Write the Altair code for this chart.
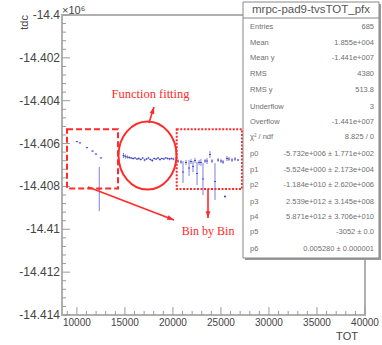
import altair as alt
import pandas as pd

# ---------------- data (TOT bin centre, mean tdc in units of 1e6, error) -------------
left_x = [10010, 10320, 11050, 11630, 11990, 12330, 12510]
left_y = [-14.40591, -14.40597, -14.40619, -14.40635, -14.40649, -14.40812, -14.40667]
left_e = [0.00002, 0.00002, 0.00002, 0.00002, 0.00002, 0.00103, 0.00002]

circ_x = [14850, 15050, 15250, 15450, 15650, 15850, 16050, 16250, 16450, 16650,
          16850, 17050, 17250, 17450, 17650, 17850, 18050, 18250, 18450, 18650,
          18850, 19050, 19250, 19450, 19650, 19850, 20050]
circ_y = [-14.406557, -14.406603, -14.406627, -14.40665, -14.406673, -14.406697,
          -14.406673, -14.40672, -14.406697, -14.406743, -14.406673, -14.406767,
          -14.40672, -14.406673, -14.406743, -14.40679, -14.406697, -14.40672,
          -14.406673, -14.406743, -14.406697, -14.40672, -14.406673, -14.406697,
          -14.40672, -14.406697, -14.40672]
circ_e = [0.00012, 0.0001, 0.00008, 0.00006, 0.00005, 0.00005, 0.00004, 0.00005,
          0.00006, 0.00005, 0.00004, 0.00006, 0.00005, 0.00004, 0.00005, 0.00007,
          0.00005, 0.00004, 0.00005, 0.00006, 0.00004, 0.00005, 0.00004, 0.00005,
          0.00006, 0.00005, 0.00006]

right_x = [20530, 20840, 21050, 21360, 21680, 21880, 22090, 22300, 22510, 22720,
           22920, 23130, 23340, 23550, 23860, 24070, 24380, 24700, 25010, 25220,
           25420, 25630, 25840, 26150, 26470, 26780]
right_y = [-14.406813, -14.40686, -14.407327, -14.406883, -14.40714, -14.406837,
           -14.40707, -14.40679, -14.407397, -14.406883, -14.406883, -14.407653,
           -14.406813, -14.406813, -14.40651, -14.406813, -14.40777, -14.406767,
           -14.406813, -14.40686, -14.40847, -14.406697, -14.40672, -14.406767,
           -14.40672, -14.406767]
right_e = [0.00009, 0.00009, 0.00051, 0.00012, 0.00037, 0.00012, 0.00026, 0.00012,
           0.00054, 0.00012, 0.00016, 0.00075, 0.00009, 0.00014, 0.00016, 0.00009,
           0.00086, 0.00009, 0.00009, 0.00009, 0.00007, 0.00012, 0.00009, 0.00009,
           0.00009, 0.00005]

x_major = [10000, 15000, 20000, 25000, 30000, 35000, 40000]
x_labels = ["10000", "15000", "20000", "25000", "30000", "35000", "40000"]
y_major = [-14.414, -14.412, -14.41, -14.408, -14.406, -14.404, -14.402, -14.4]
y_labels = ["-14.414", "-14.412", "-14.41", "-14.408", "-14.406", "-14.404", "-14.402", "-14.4"]

stat_labels = ["Entries", "Mean", "Mean y", "RMS", "RMS y", "Underflow", "Overflow",
               "\u03c7\u00b2 / ndf", "p0", "p1", "p2", "p3", "p4", "p5", "p6"]
stat_values = ["685", "1.855e+004", "-1.441e+007", "4380", "513.8", "3",
               "-1.441e+007", "8.825 / 0",
               "-5.732e+006 \u00b1 1.771e+002", "-5.524e+000 \u00b1 2.173e+004",
               "-1.184e+010 \u00b1 2.620e+006", "2.539e+012 \u00b1 3.145e+008",
               "5.871e+012 \u00b1 3.706e+010", "-3052 \u00b1 0.0",
               "0.005280 \u00b1 0.000001"]

# ---------------- layout / style -------------
W, H = 303, 300
RED = "#ff2a2a"
BLUE = "#4848c4"
GREY = "#9a9a9a"
SERIF = "Liberation Serif, Times New Roman, DejaVu Serif, serif"
SANS = "Liberation Sans, Arial, sans-serif"
xs = alt.Scale(domain=[8450, 40000], nice=False, zero=False)
ys = alt.Scale(domain=[-14.414, -14.4], nice=False, zero=False)

x_minor = [v for v in range(9000, 40000, 1000) if v % 5000]
y_minor = [round(-14.414 + 0.0004 * i, 4) for i in range(36)]
y_minor = [v for v in y_minor if all(abs(v - m) > 1e-6 for m in y_major)]


def X(f):
    return alt.X(f, scale=xs, axis=None)


def Y(f):
    return alt.Y(f, scale=ys, axis=None)


# profile table
rows = []
for xx, yy, ee, hw in ([(a, b, c, 120) for a, b, c in zip(left_x, left_y, left_e)]
                       + [(a, b, c, 100) for a, b, c in zip(circ_x, circ_y, circ_e)]
                       + [(a, b, c, 100) for a, b, c in zip(right_x, right_y, right_e)]):
    rows.append({"x": xx, "y": yy, "lo": yy - ee, "hi": yy + ee, "xl": xx - hw, "xr": xx + hw})
prof = pd.DataFrame(rows)

hbars = alt.Chart(prof).mark_rule(color=BLUE, strokeWidth=1).encode(
    x=X("xl:Q"), x2="xr:Q", y=Y("y:Q"))
vbars = alt.Chart(prof).mark_rule(color=BLUE, strokeWidth=1, opacity=0.7).encode(
    x=X("x:Q"), y=Y("lo:Q"), y2="hi:Q")


# ticks inside the frame, labels outside
def xticks(vals, length):
    return alt.Chart(alt.Data(values=[{"tx": v} for v in vals])).mark_rule(color=GREY).encode(
        x=X("tx:Q"), y=alt.value(H), y2=alt.value(H - length))


def yticks(vals, length):
    return alt.Chart(alt.Data(values=[{"ty": v} for v in vals])).mark_rule(color=GREY).encode(
        y=Y("ty:Q"), x=alt.value(0), x2=alt.value(length))


xlab = alt.Chart(alt.Data(values=[{"lx": v, "lt": t} for v, t in zip(x_major, x_labels)])).mark_text(
    align="center", baseline="top", fontSize=10, font=SANS, color="#444").encode(
    x=X("lx:Q"), y=alt.value(H + 3), text="lt:N")
ylab = alt.Chart(pd.DataFrame({"ly": y_major, "lt": y_labels})).mark_text(
    align="right", baseline="middle", fontSize=12, color="#444").encode(
    y=Y("ly:Q"), x=alt.value(-2), text="lt:N")

# ---------------- annotations (in data coordinates) -------------
rect_left = alt.Chart(pd.DataFrame({"x": [8971], "x2": [14281], "y": [-14.405334], "y2": [-14.408097]})
                      ).mark_rect(fillOpacity=0, stroke=RED, strokeWidth=2, strokeDash=[6, 3]).encode(
    x=X("x:Q"), x2="x2:Q", y=Y("y:Q"), y2="y2:Q")
rect_right = alt.Chart(pd.DataFrame({"x": [20394], "x2": [27193], "y": [-14.405334], "y2": [-14.40812]})
                       ).mark_rect(fillOpacity=0, stroke=RED, strokeWidth=2, strokeDash=[2, 1.5]).encode(
    x=X("x:Q"), x2="x2:Q", y=Y("y:Q"), y2="y2:Q")

ellipse = alt.Chart(pd.DataFrame({"x": [17353], "y": [-14.406557]})).mark_point(
    shape="M -0.853 0 A 0.853 1 0 1 1 0.853 0 A 0.853 1 0 1 1 -0.853 0 Z",
    size=4624, filled=False, color=RED, strokeWidth=2, opacity=1).encode(
    x=X("x:Q"), y=Y("y:Q"))

arrows = pd.DataFrame({
    "x": [17509, 11157, 23653], "y": [-14.40504, -14.408027, -14.40812],
    "x2": [18030, 20113, 23653], "y2": [-14.404293, -14.409567, -14.409473],
    "a": [17, 111, 180]})
shafts = alt.Chart(arrows).mark_rule(color=RED, strokeWidth=1.6).encode(
    x=X("x:Q"), y=Y("y:Q"), x2="x2:Q", y2="y2:Q")
heads = alt.Chart(arrows).mark_point(shape="M 0 0 L -0.45 1.3 L 0.45 1.3 Z", size=110,
                                     filled=True, color=RED, opacity=1).encode(
    x=X("x2:Q"), y=Y("y2:Q"), angle=alt.Angle("a:Q", scale=None))

txt_fit = alt.Chart(pd.DataFrame({"x": [17665], "y": [-14.403687], "t": ["Function fitting"]})
                    ).mark_text(font=SERIF, fontSize=12.5, color=RED, align="center",
                                baseline="middle").encode(x=X("x:Q"), y=Y("y:Q"), text="t:N")
txt_bin = alt.Chart(pd.DataFrame({"x": [20914], "y": [-14.41008], "t": ["Bin by Bin"]})
                    ).mark_text(font=SERIF, fontSize=12, color=RED, align="left",
                                baseline="middle").encode(x=X("x:Q"), y=Y("y:Q"), text="t:N")

# ---------------- titles -------------
one = pd.DataFrame({"k": [0]})
ytitle = alt.Chart(one).mark_text(text="tdc", angle=270, align="right", baseline="middle",
                                  fontSize=11, font=SANS, color="#444").encode(
    x=alt.value(-37), y=alt.value(0))
mult = alt.Chart(one).mark_text(text="\u00d710\u2076", align="left", baseline="middle",
                                fontSize=11, font=SANS, color="#444").encode(
    x=alt.value(0), y=alt.value(-4))
xtitle = alt.Chart(one).mark_text(text="TOT", align="center", baseline="middle",
                                  fontSize=11, font=SANS, color="#444").encode(
    x=alt.value(285), y=alt.value(322))

# ---------------- stats box -------------
shadow = alt.Chart(one).mark_rect(fill="#9a9a9a").encode(
    x=alt.value(183), x2=alt.value(319), y=alt.value(-11), y2=alt.value(245))
box = alt.Chart(one).mark_rect(fill="white", stroke="#888", strokeWidth=1).encode(
    x=alt.value(181), x2=alt.value(317), y=alt.value(-13), y2=alt.value(243))
sep = alt.Chart(one).mark_rule(color="#888").encode(
    x=alt.value(181), x2=alt.value(317), y=alt.value(3))
title_box = alt.Chart(one).mark_text(text="mrpc-pad9-tvsTOT_pfx", align="center", baseline="middle",
                                     fontSize=11.5, font=SANS, color="#555").encode(
    x=alt.value(249), y=alt.value(-5))
row_py = [12, 28, 42.5, 59, 74.5, 91.5, 107, 122, 138.5, 155, 170, 186.5, 201.5, 217, 234]
stats = pd.DataFrame({"lab": stat_labels, "val": stat_values, "py": row_py})
stat_lab = alt.Chart(stats).mark_text(align="left", baseline="middle", fontSize=7.5,
                                      font=SANS, color="#707070").encode(
    x=alt.value(188), y=alt.Y("py:Q", scale=None, axis=None), text="lab:N")
stat_val = alt.Chart(stats).mark_text(align="right", baseline="middle", fontSize=7.5,
                                      font=SANS, color="#707070").encode(
    x=alt.value(312), y=alt.Y("py:Q", scale=None, axis=None), text="val:N")

chart = alt.layer(
    hbars, vbars,
    xticks(x_minor, 4), xticks(x_major, 8), yticks(y_minor, 4), yticks(y_major, 8),
    xlab,
    rect_left, rect_right, ellipse, shafts, heads, txt_fit, txt_bin,
    ytitle, mult, xtitle,
    shadow, box, sep, title_box, stat_lab, stat_val,
    ylab,
).properties(
    width=W, height=H,
    padding={"left": 62, "top": 15, "right": 17, "bottom": 30},
    autosize=alt.AutoSizeParams(type="none"),
    background="white",
).configure_view(stroke="#b0b0b0", strokeWidth=2)

chart.save("out.html", embed_options={"renderer": "svg", "actions": False})
